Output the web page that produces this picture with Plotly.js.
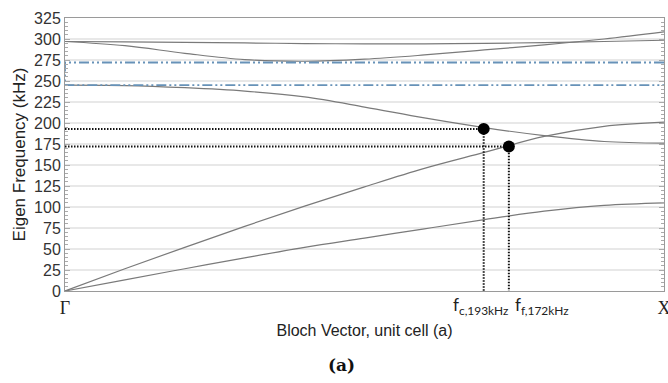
<!DOCTYPE html>
<html>
<head>
<meta charset="utf-8">
<script src="https://cdn.plot.ly/plotly-3.0.1.min.js"></script>
<style>
  html, body { margin: 0; padding: 0; background: #fff; }
  #plot { width: 668px; height: 383px; }
</style>
</head>
<body>
<div id="plot"></div>
<script>
// Normalised Bloch wave vector from Γ (0) to X (1)
const kx = [0, 0.1, 0.2, 0.3, 0.4, 0.5, 0.6, 0.7, 0.8, 0.9, 1.0];

// Dispersion branches, eigenfrequency in kHz
const band1 = [0, 13.3, 26.5, 39.5, 52, 63, 74, 85, 95, 102, 105];
const band2 = [0, 26.5, 52, 77, 101, 124, 146, 165, 184, 196, 201];
const band3 = [245, 244.5, 242, 238, 231, 219, 206, 194.5, 185, 178, 176];
const band4 = [297, 292, 283, 275.5, 273.5, 276, 281, 287, 293, 300, 308.5];
const band5 = [297, 296.5, 296, 295.3, 294.6, 294.2, 294.2, 294.8, 295.8, 297, 298.5];

// Band gap edges (kHz)
const gapLower = 245;
const gapUpper = 272;

// Operating points: k position, frequency in kHz, subscript
const fcK = 0.699, fcVal = 193, fcName = 'c,193kHz';
const ffK = 0.741, ffVal = 172, ffName = 'f,172kHz';

const bandStyle = { color: '#7a7a7a', width: 1.2, shape: 'spline' };
const gapStyle = { color: '#6792b8', width: 1.8, dash: '10px,3px,2px,3px,2px,3px' };
const guideStyle = { color: '#111', width: 2, dash: '1.5px,1.5px' };

const traces = [];
[band1, band2, band3, band4, band5].forEach(b => {
  traces.push({ x: kx, y: b, mode: 'lines', line: bandStyle, hoverinfo: 'skip' });
});

// Band gap boundaries
traces.push({ x: [1, 0, 0, 1], y: [gapUpper, gapUpper, gapLower, gapLower],
  mode: 'lines', line: gapStyle, hoverinfo: 'skip', cliponaxis: false });

// Guide lines to the axes
[[fcK, fcVal], [ffK, ffVal]].forEach(([k, f]) => {
  traces.push({ x: [0, k, k], y: [f, f, 0], mode: 'lines', line: guideStyle, hoverinfo: 'skip' });
});

// Operating point markers
traces.push({ x: [fcK, ffK], y: [fcVal, ffVal], mode: 'markers',
  marker: { color: '#000', size: 12 }, hoverinfo: 'skip' });

const labelFont = { family: 'Lato, "Open Sans", sans-serif', size: 17, color: '#222' };

const layout = {
  width: 668, height: 383,
  margin: { l: 65, r: 4, t: 18, b: 92 },
  showlegend: false,
  paper_bgcolor: '#fff', plot_bgcolor: '#fff',
  xaxis: {
    range: [0, 1],
    tickvals: [0, 1], ticktext: ['Γ', 'X'],
    ticklabeloverflow: 'allow',
    tickfont: { family: '"Liberation Serif", serif', size: 18, color: '#222' },
    ticks: '', showgrid: false, zeroline: false,
    showline: true, linecolor: '#9a9a9a', linewidth: 1, mirror: true,
    title: { text: 'Bloch Vector, unit cell (a)', standoff: 8,
      font: { family: '"Liberation Sans", Arial, sans-serif', size: 16, color: '#222' } }
  },
  yaxis: {
    range: [0, 325],
    dtick: 25,
    tickfont: { family: '"Liberation Sans", Arial, sans-serif', size: 16, color: '#333' },
    ticks: 'inside', ticklen: 5, tickcolor: '#aaa',
    minor: { dtick: 5, ticks: 'inside', ticklen: 3, tickcolor: '#aaa', showgrid: false },
    showgrid: true, gridcolor: '#e8e8e8', gridwidth: 2,
    zeroline: false,
    showline: true, linecolor: '#9a9a9a', linewidth: 1, mirror: 'ticks',
    title: { text: 'Eigen Frequency (kHz)', standoff: 4,
      font: { family: '"Liberation Sans", Arial, sans-serif', size: 17, color: '#222' } }
  },
  annotations: [
    { x: fcK, xref: 'x', y: 0, yref: 'paper', xanchor: 'left', yanchor: 'top',
      xshift: -33, yshift: -1, showarrow: false, text: 'f<sub>' + fcName + '</sub>', font: labelFont },
    { x: ffK, xref: 'x', y: 0, yref: 'paper', xanchor: 'left', yanchor: 'top',
      xshift: 4, yshift: -1, showarrow: false, text: 'f<sub>' + ffName + '</sub>', font: labelFont },
    { x: 0.462, xref: 'paper', y: -0.27, yref: 'paper', xanchor: 'center', yanchor: 'middle',
      showarrow: false, text: '<b>(a)</b>',
      font: { family: '"DejaVu Serif", "Liberation Serif", serif', size: 17, color: '#111' } }
  ]
};

Plotly.newPlot('plot', traces, layout, { staticPlot: true, displayModeBar: false });
</script>
</body>
</html>
